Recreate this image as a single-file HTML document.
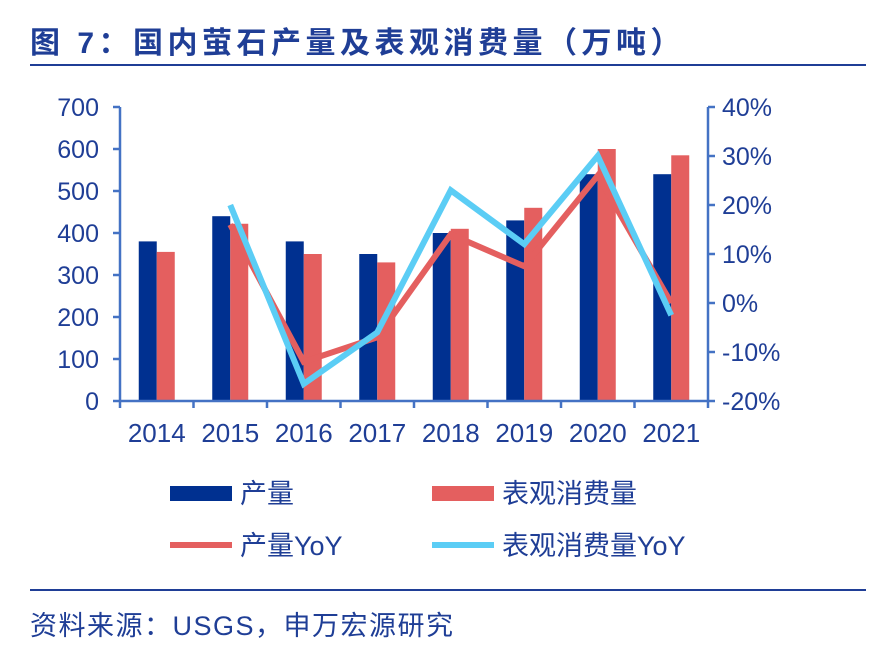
<!DOCTYPE html>
<html><head><meta charset="utf-8"><style>
body{margin:0;background:#fff;width:881px;height:651px;overflow:hidden;font-family:"Liberation Sans","Noto Sans CJK SC",sans-serif}
</style></head><body>
<svg width="881" height="651" xmlns="http://www.w3.org/2000/svg">
<text x="30" y="53" font-size="30" font-weight="bold" letter-spacing="4.5" fill="#1f3e96" font-family="Liberation Sans, Noto Sans CJK SC, sans-serif">图 7：国内萤石产量及表观消费量（万吨）</text>
<rect x="30" y="64" width="836" height="2" fill="#1f3e96"/>
<g id="plot"></g>
<g font-size="27" fill="#1f3e96" font-family="Liberation Sans, Noto Sans CJK SC, sans-serif">
<rect x="170" y="486" width="62" height="15" fill="#003090"/>
<text x="240" y="503">产量</text>
<rect x="432" y="486" width="62" height="15" fill="#e45f5f"/>
<text x="502" y="503">表观消费量</text>
<line x1="170" y1="545" x2="232" y2="545" stroke="#e45f5f" stroke-width="6"/>
<text x="240" y="555">产量YoY</text>
<line x1="432" y1="545" x2="494" y2="545" stroke="#5bcdf5" stroke-width="6"/>
<text x="502" y="555">表观消费量YoY</text>
</g>
<rect x="30" y="589" width="836" height="2" fill="#1f3e96"/>
<text x="30" y="635" font-size="27" letter-spacing="1.5" fill="#1f3e96" font-family="Liberation Sans, Noto Sans CJK SC, sans-serif">资料来源：USGS，申万宏源研究</text>
</svg>
<script>
const years=["2014","2015","2016","2017","2018","2019","2020","2021"];
const production=[380,440,380,350,400,430,540,540];
const consumption=[355,422,350,330,410,460,600,585];
const productionYoY=[null,16,-12,-7,14,7.5,26,0];
const consumptionYoY=[null,20,-16.5,-6,23,12,30,-2.5];
const leftTicks=[0,100,200,300,400,500,600,700];
const rightTicks=[-20,-10,0,10,20,30,40];
const NS="http://www.w3.org/2000/svg";
const g=document.getElementById('plot');
const L=120,R=708,T=107,B=401;
const cw=(R-L)/years.length;
const yL=v=>B-(v/700)*(B-T);
const yR=v=>B-((v+20)/60)*(B-T);
const xC=i=>L+cw*(i+0.5);
function mk(t,a){const e=document.createElementNS(NS,t);for(const k in a)e.setAttribute(k,a[k]);g.appendChild(e);return e;}
const ax="#4472c4",tc="#1f3e96";
production.forEach((v,i)=>{const r=mk('rect',{x:xC(i)-18,y:yL(v),width:18,height:B-yL(v),fill:'#003090'});

});
consumption.forEach((v,i)=>{const r=mk('rect',{x:xC(i),y:yL(v),width:18,height:B-yL(v),fill:'#e45f5f'});

});
function line(arr,col,name){let p=[];arr.forEach((v,i)=>{if(v!==null)p.push(xC(i)+','+yR(v));});
const e=mk('polyline',{points:p.join(' '),fill:'none',stroke:col,'stroke-width':6,'stroke-linejoin':'miter'});

}
line(productionYoY,'#e45f5f','line-production-yoy');
line(consumptionYoY,'#5bcdf5','line-consumption-yoy');
let a=mk('line',{x1:L,y1:T,x2:L,y2:B,stroke:ax,'stroke-width':2.5});


a=mk('line',{x1:R,y1:T,x2:R,y2:B,stroke:ax,'stroke-width':2.5});


a=mk('line',{x1:L,y1:B,x2:R,y2:B,stroke:ax,'stroke-width':2.5});


leftTicks.forEach(v=>{mk('line',{x1:L-7,y1:yL(v),x2:L,y2:yL(v),stroke:ax,'stroke-width':2.5});
const t=mk('text',{x:L-21,y:yL(v)+9,'text-anchor':'end','font-size':25,fill:tc});t.textContent=v;

});
rightTicks.forEach(v=>{mk('line',{x1:R,y1:yR(v),x2:R+7,y2:yR(v),stroke:ax,'stroke-width':2.5});
const t=mk('text',{x:R+14,y:yR(v)+9,'font-size':25,fill:tc});t.textContent=v+'%';

});
for(let i=0;i<=years.length;i++)mk('line',{x1:L+cw*i,y1:B,x2:L+cw*i,y2:B+7,stroke:ax,'stroke-width':2.5});
years.forEach((y,i)=>{const t=mk('text',{x:xC(i),y:442,'text-anchor':'middle','font-size':26,fill:tc});t.textContent=y;

});
</script>
</body></html>
